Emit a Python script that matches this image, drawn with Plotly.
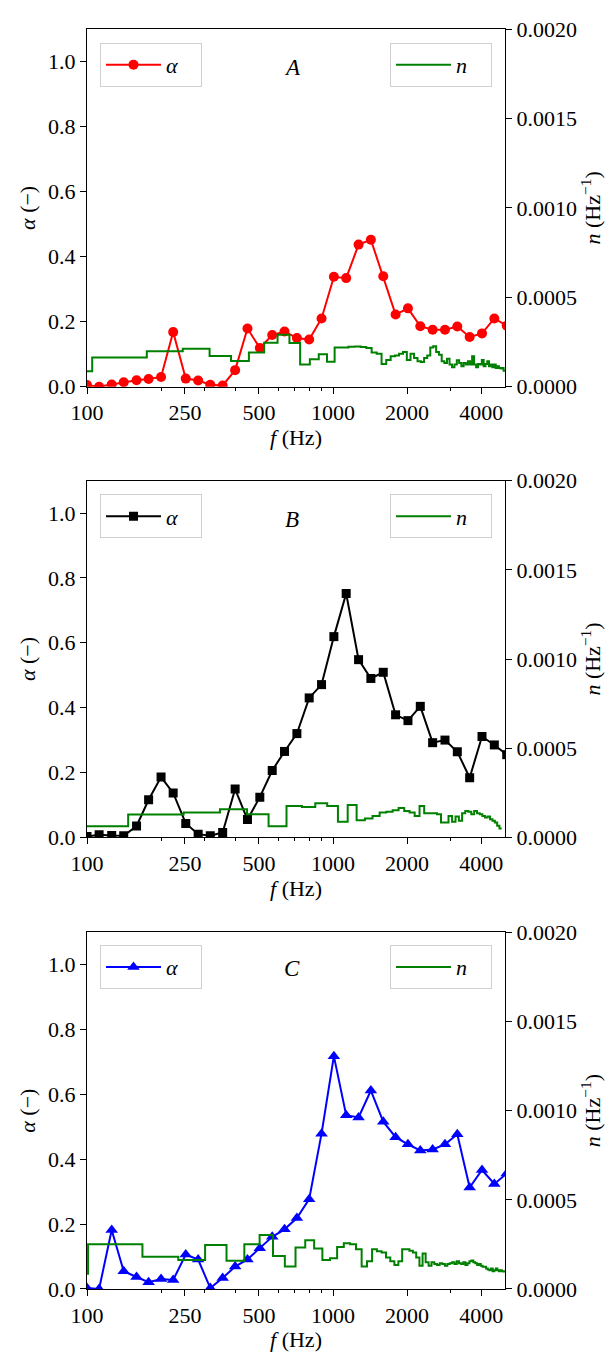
import plotly.graph_objects as go

# ---------------- data ----------------
# alpha measured at 1/6-octave centre frequencies (Hz)
f_alpha = [100, 112, 126, 141, 159, 178, 200, 224, 252, 283, 317, 356, 400, 449,
           504, 566, 635, 713, 800, 898, 1008, 1131, 1270, 1425, 1600, 1796,
           2016, 2263, 2540, 2851, 3200, 3592, 4032, 4525, 5080]

alpha_A = [0.005, 0.000, 0.007, 0.014, 0.020, 0.024, 0.030, 0.168, 0.025, 0.019,
           0.006, 0.004, 0.051, 0.179, 0.119, 0.159, 0.170, 0.150, 0.145, 0.210,
           0.338, 0.334, 0.437, 0.452, 0.340, 0.222, 0.241, 0.186, 0.175, 0.175,
           0.185, 0.153, 0.164, 0.210, 0.188]

alpha_B = [0.003, 0.008, 0.006, 0.005, 0.035, 0.116, 0.186, 0.137, 0.043, 0.010,
           0.005, 0.015, 0.149, 0.055, 0.124, 0.206, 0.265, 0.320, 0.430, 0.471,
           0.619, 0.752, 0.548, 0.490, 0.509, 0.378, 0.360, 0.404, 0.292, 0.300,
           0.264, 0.184, 0.311, 0.285, 0.255]

alpha_C = [0.003, 0.000, 0.182, 0.055, 0.037, 0.021, 0.031, 0.028, 0.106, 0.091,
           0.003, 0.034, 0.069, 0.091, 0.126, 0.161, 0.184, 0.219, 0.277, 0.479,
           0.718, 0.536, 0.529, 0.612, 0.516, 0.468, 0.446, 0.427, 0.430, 0.446,
           0.477, 0.313, 0.367, 0.324, 0.356]

# modal density n (Hz^-1) in constant-width frequency bins
n_A_start, n_A_width = 35, 70
n_A = [0.000087, 0.000163, 0.000199, 0.000212, 0.000172, 0.000144, 0.000192,
       0.000246, 0.000290, 0.000244, 0.000124, 0.000153, 0.000181, 0.000140,
       0.000220, 0.000220, 0.000223, 0.000225, 0.000222, 0.000216, 0.000192,
       0.000185, 0.000127, 0.000150, 0.000170, 0.000174, 0.000185, 0.000194,
       0.000150, 0.000185, 0.000160, 0.000142, 0.000139, 0.000160, 0.000175,
       0.000220, 0.000227, 0.000194, 0.000179, 0.000142, 0.000133, 0.000157,
       0.000124, 0.000109, 0.000124, 0.000148, 0.000133, 0.000114, 0.000133,
       0.000124, 0.000142, 0.000124, 0.000170, 0.000124, 0.000109, 0.000127,
       0.000124, 0.000150, 0.000114, 0.000127, 0.000142, 0.000114, 0.000124,
       0.000109, 0.000124, 0.000105, 0.000114, 0.000105, 0.000102, 0.000105,
       0.000090]

n_B_start, n_B_width = 47, 100
n_B = [0.000063, 0.000128, 0.000139, 0.000157, 0.000130, 0.000063, 0.000176,
       0.000170, 0.000191, 0.000176, 0.000087, 0.000181, 0.000096, 0.000106,
       0.000120, 0.000139, 0.000143, 0.000152, 0.000165, 0.000148, 0.000139,
       0.000120, 0.000176, 0.000135, 0.000135, 0.000135, 0.000130, 0.000083,
       0.000083, 0.000120, 0.000087, 0.000117, 0.000093, 0.000135, 0.000148,
       0.000143, 0.000130, 0.000148, 0.000135, 0.000130, 0.000120, 0.000111,
       0.000117, 0.000102, 0.000093, 0.000083, 0.000065, 0.000050]

n_C_start, n_C_width = 34, 67
n_C = [0.000085, 0.000251, 0.000181, 0.000163, 0.000246, 0.000159, 0.000251,
       0.000303, 0.000185, 0.000126, 0.000233, 0.000273, 0.000227, 0.000163,
       0.000172, 0.000236, 0.000257, 0.000251, 0.000223, 0.000126, 0.000155,
       0.000223, 0.000211, 0.000205, 0.000177, 0.000155, 0.000135, 0.000155,
       0.000223, 0.000223, 0.000215, 0.000205, 0.000177, 0.000131, 0.000199,
       0.000150, 0.000131, 0.000150, 0.000140, 0.000135, 0.000145, 0.000140,
       0.000130, 0.000140, 0.000145, 0.000150, 0.000140, 0.000155, 0.000145,
       0.000140, 0.000150, 0.000135, 0.000145, 0.000155, 0.000160, 0.000150,
       0.000145, 0.000135, 0.000140, 0.000130, 0.000125, 0.000125, 0.000115,
       0.000110, 0.000105, 0.000115, 0.000100, 0.000105, 0.000115, 0.000105,
       0.000100, 0.000105, 0.000100, 0.000098, 0.000100]

panel_labels = ["A", "B", "C"]
x_ticks = [100, 250, 500, 1000, 2000, 4000]
x_minor = [200, 300, 400, 600, 700, 800, 900, 3000]
alpha_ticks = [0.0, 0.2, 0.4, 0.6, 0.8, 1.0]
n_ticks = [0.0, 0.0005, 0.0010, 0.0015, 0.0020]

# ---------------- layout helpers ----------------
OFF = 8                      # default page body margin
WIN_W, WIN_H = 614, 1356
L, R, T, B = 87, 505, 17, 1292   # plot area in window pixels
PW, PH = R - L, B - T
FIG_W, FIG_H = WIN_W - OFF, WIN_H - OFF


def xp(px):
    return (px - L) / PW


def yp(py):
    return (B - py) / PH


panel_px = [(17, 379), (474, 835), (931, 1292)]
legend_top = [31, 488, 944]
label_y = [56, 513, 968]

FONT = "Liberation Serif"
FS = 22
colors = ["#ff0000", "#000000", "#0000ff"]
symbols = ["circle", "square", "triangle-up"]
msizes = [10, 9, 11]
alphas = [alpha_A, alpha_B, alpha_C]
n_sets = [(n_A_start, n_A_width, n_A), (n_B_start, n_B_width, n_B),
          (n_C_start, n_C_width, n_C)]

fig = go.Figure()
layout = dict(
    width=FIG_W, height=FIG_H,
    margin=dict(l=L - OFF, r=FIG_W - (R - OFF), t=T - OFF, b=FIG_H - (B - OFF)),
    paper_bgcolor="white", plot_bgcolor="white",
    font=dict(family=FONT, size=FS, color="black"),
    showlegend=True,
)

annotations = []
for i in range(3):
    top, bot = panel_px[i]
    xa = "x" if i == 0 else f"x{i+1}"
    ya_left = f"y{2*i+1}" if i > 0 else "y"
    ya_right = f"y{2*i+2}"
    leg_l = "legend" if i == 0 else f"legend{2*i+1}"
    leg_r = f"legend{2*i+2}"

    fig.add_trace(go.Scatter(
        x=f_alpha, y=alphas[i], mode="lines+markers", name="<i>α</i>",
        line=dict(color=colors[i], width=2),
        marker=dict(symbol=symbols[i], size=msizes[i], color=colors[i]),
        xaxis=xa, yaxis=ya_left, legend=leg_l, cliponaxis=True))

    start, width, vals = n_sets[i]
    edges = [start + width * k for k in range(len(vals) + 1)]
    fig.add_trace(go.Scatter(
        x=edges, y=list(vals) + [vals[-1]], mode="lines", name="<i>n</i>",
        line=dict(color="#008000", width=2, shape="hv"),
        xaxis=xa, yaxis=ya_right, legend=leg_r))

    dom_y = [yp(bot), yp(top)]
    xkey = "xaxis" if i == 0 else f"xaxis{i+1}"
    ylkey = "yaxis" if i == 0 else f"yaxis{2*i+1}"
    yrkey = f"yaxis{2*i+2}"

    layout[xkey] = dict(
        type="log", range=[2, 3.69897], domain=[0, 1],
        anchor=ya_left,
        tickmode="array", tickvals=x_ticks, ticktext=[str(v) for v in x_ticks],
        ticks="outside", ticklen=6, tickwidth=1, tickcolor="black",
        minor=dict(tickmode="array", tickvals=x_minor, ticks="outside",
                   ticklen=3, tickwidth=1, tickcolor="black"),
        showline=True, linecolor="black", linewidth=1.2, mirror=True,
        showgrid=False, zeroline=False,
        tickfont=dict(family=FONT, size=FS),
        title=dict(text="<i>f</i> (Hz)", font=dict(family=FONT, size=FS), standoff=4),
    )
    layout[ylkey] = dict(
        domain=dom_y, range=[0, 1.1], anchor=xa,
        tickmode="array", tickvals=alpha_ticks,
        ticktext=[f"{v:.1f}" for v in alpha_ticks],
        ticks="outside", ticklen=6, tickwidth=1, tickcolor="black",
        showline=True, linecolor="black", linewidth=1.2,
        showgrid=False, zeroline=False,
        tickfont=dict(family=FONT, size=FS),
        title=dict(text="<i>α</i> (−)", font=dict(family=FONT, size=FS), standoff=6),
    )
    layout[yrkey] = dict(
        domain=dom_y, range=[0, 0.002], anchor=xa, overlaying=ya_left,
        side="right",
        tickmode="array", tickvals=n_ticks,
        ticktext=[f"{v:.4f}" for v in n_ticks],
        ticks="outside", ticklen=6, tickwidth=1, tickcolor="black",
        showline=True, linecolor="black", linewidth=1.2,
        showgrid=False, zeroline=False,
        tickfont=dict(family=FONT, size=FS),
        title=dict(text="<i>n</i> (Hz<sup>−1</sup>)",
                   font=dict(family=FONT, size=FS), standoff=2),
    )

    legbox = dict(bgcolor="rgba(255,255,255,0.8)", bordercolor="#d0d0d0",
                  borderwidth=1, font=dict(family=FONT, size=FS),
                  orientation="h", itemwidth=55, entrywidth=30,
                  yanchor="top", y=yp(legend_top[i]))
    layout[leg_l] = dict(legbox, xanchor="left", x=xp(100))
    layout[leg_r] = dict(legbox, xanchor="right", x=xp(492))

    annotations.append(dict(
        text=f"<i>{panel_labels[i]}</i>", x=xp(292), y=yp(label_y[i]),
        xref="paper", yref="paper", showarrow=False,
        font=dict(family=FONT, size=FS + 1), xanchor="center", yanchor="middle"))

layout["annotations"] = annotations
fig.update_layout(**layout)
fig.write_html("out.html")
